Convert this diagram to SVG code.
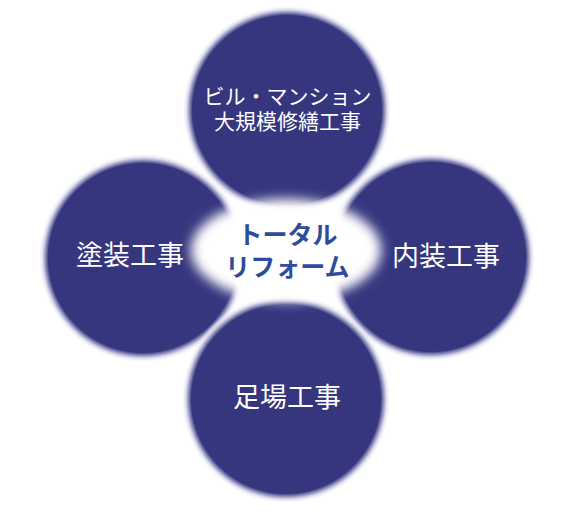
<svg xmlns="http://www.w3.org/2000/svg" width="574" height="513" viewBox="0 0 574 513">
  <style>
    .lbl { font-family: "Noto Sans CJK JP", "Noto Sans CJK SC", sans-serif; fill: #ffffff; text-anchor: middle; }
    .ctr { font-family: "Noto Sans CJK JP", "Noto Sans CJK SC", sans-serif; fill: #2d4d9c; text-anchor: middle; font-weight: bold; }
  </style>
  <defs>
    <radialGradient id="disc">
      <stop offset="0" stop-color="#35367e"/>
      <stop offset="0.9" stop-color="#35367e"/>
      <stop offset="0.955" stop-color="#d6d6ea" stop-opacity="0.9"/>
      <stop offset="1" stop-color="#ffffff" stop-opacity="0"/>
    </radialGradient>
    <filter id="soft" x="-30%" y="-40%" width="160%" height="180%">
      <feGaussianBlur stdDeviation="6"/>
    </filter>
  </defs>
  <rect width="574" height="513" fill="#ffffff"/>
  <g id="connectors"/>
  <g id="node-left">
    <circle cx="143" cy="258" r="105" fill="url(#disc)"/>
    <text class="lbl" x="130" y="265" font-size="27">塗装工事</text>
  </g>
  <g id="node-top">
    <circle cx="287" cy="110" r="105" fill="url(#disc)"/>
    <text class="lbl" x="287.5" y="104" font-size="21">ビル・マンション</text>
    <text class="lbl" x="287.5" y="129" font-size="21">大規模修繕工事</text>
  </g>
  <g id="node-right">
    <circle cx="431" cy="257" r="105" fill="url(#disc)"/>
    <text class="lbl" x="446" y="266" font-size="27">内装工事</text>
  </g>
  <g id="node-bottom">
    <circle cx="286" cy="399" r="105" fill="url(#disc)"/>
    <text class="lbl" x="287" y="407" font-size="27">足場工事</text>
  </g>
  <g id="node-center">
    <ellipse cx="286" cy="250" rx="95" ry="51" fill="#ffffff" filter="url(#soft)"/>
    <text class="ctr" x="287.5" y="244" font-size="25">トータル</text>
    <text class="ctr" x="287.5" y="276" font-size="25">リフォーム</text>
  </g>
</svg>
